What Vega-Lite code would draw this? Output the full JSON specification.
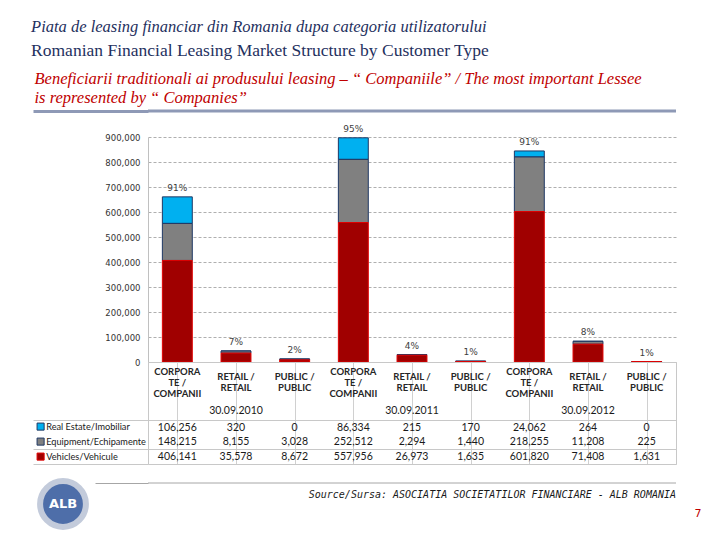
{
  "$schema": "https://vega.github.io/schema/vega-lite/v6.json",
  "background": "white",
  "padding": {"left": 28, "top": 19, "right": 4, "bottom": 2},
  "title": {
    "text": "Piata de leasing financiar din Romania dupa categoria utilizatorului",
    "subtitle": "Romanian Financial Leasing Market Structure by Customer Type",
    "anchor": "start", "frame": "bounds", "dx": 3,
    "font": "Liberation Serif", "fontSize": 16.5, "fontStyle": "italic", "fontWeight": "normal", "color": "#1f3160",
    "subtitleFont": "Liberation Serif", "subtitleFontSize": 17.5, "subtitleFontStyle": "normal", "subtitleColor": "#1f3160",
    "subtitlePadding": 6, "offset": 12
  },
  "config": {"view": {"stroke": null}, "font": "DejaVu Sans"},
  "spacing": 0,
  "bounds": "flush",
  "resolve": {"scale": {"color": "independent", "stroke": "independent"}},
  "datasets": {
    "cols": [
      {"col": "2010 Corporate", "customer": ["CORPORA", "TE /", "COMPANII"], "pct": "91%"},
      {"col": "2010 Retail", "customer": ["RETAIL /", "RETAIL"], "pct": "7%"},
      {"col": "2010 Public", "customer": ["PUBLIC /", "PUBLIC"], "pct": "2%"},
      {"col": "2011 Corporate", "customer": ["CORPORA", "TE /", "COMPANII"], "pct": "95%"},
      {"col": "2011 Retail", "customer": ["RETAIL /", "RETAIL"], "pct": "4%"},
      {"col": "2011 Public", "customer": ["PUBLIC /", "PUBLIC"], "pct": "1%"},
      {"col": "2012 Corporate", "customer": ["CORPORA", "TE /", "COMPANII"], "pct": "91%"},
      {"col": "2012 Retail", "customer": ["RETAIL /", "RETAIL"], "pct": "8%"},
      {"col": "2012 Public", "customer": ["PUBLIC /", "PUBLIC"], "pct": "1%"}
    ],
    "dates": [
      {"col": "2010 Retail", "date": "30.09.2010"},
      {"col": "2011 Retail", "date": "30.09.2011"},
      {"col": "2012 Retail", "date": "30.09.2012"}
    ],
    "values": [
      {"col": "2010 Corporate", "type": "Real Estate/Imobiliar", "value": 106256},
      {"col": "2010 Corporate", "type": "Equipment/Echipamente", "value": 148215},
      {"col": "2010 Corporate", "type": "Vehicles/Vehicule", "value": 406141},
      {"col": "2010 Retail", "type": "Real Estate/Imobiliar", "value": 320},
      {"col": "2010 Retail", "type": "Equipment/Echipamente", "value": 8155},
      {"col": "2010 Retail", "type": "Vehicles/Vehicule", "value": 35578},
      {"col": "2010 Public", "type": "Real Estate/Imobiliar", "value": 0},
      {"col": "2010 Public", "type": "Equipment/Echipamente", "value": 3028},
      {"col": "2010 Public", "type": "Vehicles/Vehicule", "value": 8672},
      {"col": "2011 Corporate", "type": "Real Estate/Imobiliar", "value": 86334},
      {"col": "2011 Corporate", "type": "Equipment/Echipamente", "value": 252512},
      {"col": "2011 Corporate", "type": "Vehicles/Vehicule", "value": 557956},
      {"col": "2011 Retail", "type": "Real Estate/Imobiliar", "value": 215},
      {"col": "2011 Retail", "type": "Equipment/Echipamente", "value": 2294},
      {"col": "2011 Retail", "type": "Vehicles/Vehicule", "value": 26973},
      {"col": "2011 Public", "type": "Real Estate/Imobiliar", "value": 170},
      {"col": "2011 Public", "type": "Equipment/Echipamente", "value": 1440},
      {"col": "2011 Public", "type": "Vehicles/Vehicule", "value": 1635},
      {"col": "2012 Corporate", "type": "Real Estate/Imobiliar", "value": 24062},
      {"col": "2012 Corporate", "type": "Equipment/Echipamente", "value": 218255},
      {"col": "2012 Corporate", "type": "Vehicles/Vehicule", "value": 601820},
      {"col": "2012 Retail", "type": "Real Estate/Imobiliar", "value": 264},
      {"col": "2012 Retail", "type": "Equipment/Echipamente", "value": 11208},
      {"col": "2012 Retail", "type": "Vehicles/Vehicule", "value": 71408},
      {"col": "2012 Public", "type": "Real Estate/Imobiliar", "value": 0},
      {"col": "2012 Public", "type": "Equipment/Echipamente", "value": 225},
      {"col": "2012 Public", "type": "Vehicles/Vehicule", "value": 1631}
    ]
  },
  "vconcat": [
    {
      "width": 528, "height": 26,
      "title": {
        "text": ["Beneficiarii traditionali ai produsului leasing – “ Companiile” / The most important Lessee", "is represented by “ Companies”"],
        "anchor": "start", "frame": "bounds", "dx": 3,
        "font": "Liberation Serif", "fontSize": 16.5, "fontStyle": "italic", "fontWeight": "normal",
        "color": "#c00000", "lineHeight": 19, "offset": 3
      },
      "data": {"values": [{"sep": "header"}]},
      "mark": {"type": "rule", "color": "#8e99b6", "strokeWidth": 3},
      "encoding": {
        "y": {
          "field": "sep", "type": "nominal",
          "scale": {"type": "point", "padding": 0, "align": 0},
          "axis": {"title": null, "labels": false, "domain": false, "ticks": true, "tickSize": 115, "tickWidth": 3, "tickColor": "#8e99b6", "grid": false}
        }
      }
    },
    {
      "width": 528, "height": 225,
      "layer": [
        {
          "data": {"name": "values"},
          "transform": [{"calculate": "indexof(['Vehicles/Vehicule','Equipment/Echipamente','Real Estate/Imobiliar'], datum.type)", "as": "stackOrder"}],
          "mark": {"type": "bar", "strokeWidth": 1},
          "encoding": {
            "x": {
              "field": "col", "type": "nominal",
              "scale": {"domain": ["2010 Corporate", "2010 Retail", "2010 Public", "2011 Corporate", "2011 Retail", "2011 Public", "2012 Corporate", "2012 Retail", "2012 Public"], "paddingInner": 0.49, "paddingOuter": 0.245},
              "axis": null
            },
            "y": {
              "field": "value", "type": "quantitative", "stack": "zero",
              "scale": {"domain": [0, 900000], "nice": false},
              "axis": {
                "title": null, "values": [0, 100000, 200000, 300000, 400000, 500000, 600000, 700000, 800000, 900000],
                "tickCount": 12, "format": ",d", "labelOverlap": false, "grid": true, "gridDash": [3, 2], "gridColor": "#9a9a9a", "gridWidth": 0.8,
                "domain": true, "domainColor": "#c0c0c0", "ticks": false, "labelPadding": 8,
                "labelFont": "DejaVu Sans", "labelFontSize": 8.5, "labelColor": "#333333"
              }
            },
            "color": {
              "field": "type", "type": "nominal",
              "scale": {"domain": ["Real Estate/Imobiliar", "Equipment/Echipamente", "Vehicles/Vehicule"], "range": ["#00b0f0", "#808080", "#a00000"]},
              "legend": {
                "orient": "none", "legendX": -112, "legendY": 285, "title": null,
                "symbolType": "square", "symbolSize": 50, "symbolStrokeColor": "#2b3a55", "symbolStrokeWidth": 1,
                "labelFont": "Lato", "labelFontSize": 9.2, "labelColor": "#1a1a1a",
                "rowPadding": 3, "labelOffset": 1, "padding": 0
              }
            },
            "stroke": {
              "field": "type", "type": "nominal",
              "scale": {"domain": ["Real Estate/Imobiliar", "Equipment/Echipamente", "Vehicles/Vehicule"], "range": ["#1f3864", "#1f3864", "#e00000"]},
              "legend": null
            },
            "order": {"field": "stackOrder", "type": "quantitative"}
          }
        },
        {
          "data": {"name": "values"},
          "transform": [{"lookup": "col", "from": {"data": {"name": "cols"}, "key": "col", "fields": ["pct"]}}],
          "mark": {"type": "text", "baseline": "bottom", "dy": -4, "font": "DejaVu Sans", "fontSize": 9, "color": "#404040"},
          "encoding": {
            "x": {"field": "col", "type": "nominal"},
            "y": {
              "field": "value", "aggregate": "sum", "type": "quantitative",
              "axis": {
                "title": null, "values": [0, 100000, 200000, 300000, 400000, 500000, 600000, 700000, 800000, 900000],
                "tickCount": 12, "format": ",d", "labelOverlap": false, "grid": true, "gridDash": [3, 2], "gridColor": "#9a9a9a", "gridWidth": 0.8,
                "domain": true, "domainColor": "#c0c0c0", "ticks": false, "labelPadding": 8,
                "labelFont": "DejaVu Sans", "labelFontSize": 8.5, "labelColor": "#333333"
              }
            },
            "text": {"field": "pct", "type": "nominal"}
          }
        }
      ]
    },
    {
      "width": 528, "height": 102,
      "view": {"stroke": "#c8c8c8"},
      "layer": [
        {
          "data": {"name": "values"},
          "mark": {"type": "text", "font": "Lato", "fontSize": 10.5, "color": "#1a1a1a"},
          "encoding": {
            "x": {
              "field": "col", "type": "nominal",
              "scale": {"domain": ["2010 Corporate", "2010 Retail", "2010 Public", "2011 Corporate", "2011 Retail", "2011 Public", "2012 Corporate", "2012 Retail", "2012 Public"], "paddingInner": 0, "paddingOuter": 0},
              "axis": {"orient": "top", "title": null, "labels": false, "ticks": false, "domain": false, "grid": true, "bandPosition": 0, "gridColor": "#d0d0d0"}
            },
            "y": {
              "field": "type", "type": "nominal",
              "scale": {"type": "band", "domain": ["h1", "h2", "h3", "date", "Real Estate/Imobiliar", "Equipment/Echipamente", "Vehicles/Vehicule"], "paddingInner": 0, "paddingOuter": 0},
              "axis": {
                "title": null, "labels": false, "domain": false, "bandPosition": 1,
                "ticks": true, "tickSize": 115,
                "tickColor": {"condition": {"test": "indexof(['date','Equipment/Echipamente','Vehicles/Vehicule'], datum.value) >= 0", "value": "#c8c8c8"}, "value": "transparent"},
                "grid": true,
                "gridColor": {"condition": {"test": "indexof(['date','Equipment/Echipamente','Vehicles/Vehicule'], datum.value) >= 0", "value": "#c8c8c8"}, "value": "transparent"}
              }
            },
            "text": {"field": "value", "type": "quantitative", "format": ","}
          }
        },
        {
          "data": {"name": "cols"},
          "transform": [{"filter": "indexof(datum.col, 'Corporate') >= 0"}],
          "mark": {"type": "text", "font": "Lato", "fontSize": 9.5, "fontWeight": "bold", "color": "#262626", "lineHeight": 11, "dy": -12},
          "encoding": {
            "x": {"field": "col", "type": "nominal"},
            "y": {"datum": "h2", "type": "nominal"},
            "text": {"field": "customer"}
          }
        },
        {
          "data": {"name": "cols"},
          "transform": [{"filter": "indexof(datum.col, 'Corporate') < 0"}],
          "mark": {"type": "text", "font": "Lato", "fontSize": 9.5, "fontWeight": "bold", "color": "#262626", "lineHeight": 11, "dy": -7},
          "encoding": {
            "x": {"field": "col", "type": "nominal"},
            "y": {"datum": "h2", "type": "nominal"},
            "text": {"field": "customer"}
          }
        },
        {
          "data": {"name": "dates"},
          "mark": {"type": "text", "font": "Lato", "fontSize": 10.5, "color": "#1a1a1a", "dy": -2},
          "encoding": {
            "x": {"field": "col", "type": "nominal"},
            "y": {"datum": "date", "type": "nominal"},
            "text": {"field": "date", "type": "nominal"}
          }
        }
      ]
    },
    {
      "width": 528, "height": 19,
      "title": {
        "text": "Source/Sursa: ASOCIATIA SOCIETATILOR FINANCIARE - ALB ROMANIA",
        "orient": "top", "anchor": "end", "frame": "group",
        "font": "DejaVu Sans Mono", "fontSize": 10, "fontStyle": "italic", "fontWeight": "normal", "color": "#1a1a1a", "offset": -36
      },
      "data": {"values": [{"item": "line"}, {"item": "logo", "label": "ALB"}, {"item": "page", "label": "7"}]},
      "layer": [
        {
          "transform": [{"filter": "datum.item === 'line'"}],
          "mark": {"type": "rule", "color": "#a6a6a6", "strokeWidth": 1},
          "encoding": {
            "y": {
              "field": "item", "type": "nominal",
              "scale": {"type": "point", "padding": 0, "domain": ["line", "logo"], "range": [19, 40]},
              "axis": {
                "title": null, "labels": false, "domain": false, "grid": false,
                "ticks": true, "tickSize": 53,
                "tickColor": {"condition": {"test": "datum.value === 'line'", "value": "#a6a6a6"}, "value": "transparent"}
              }
            }
          }
        },
        {
          "transform": [{"filter": "datum.item === 'logo'"}],
          "mark": {"type": "point", "shape": "circle", "filled": true, "size": 2100, "fill": "#4e6ea9", "stroke": "#c3cbdb", "strokeWidth": 6, "opacity": 1},
          "encoding": {
            "x": {"field": "item", "type": "nominal", "scale": {"type": "point", "padding": 0, "domain": ["logo", "page"], "range": [-85, 550]}, "axis": null},
            "y": {"field": "item", "type": "nominal"}
          }
        },
        {
          "transform": [{"filter": "datum.item === 'logo'"}],
          "mark": {"type": "text", "color": "white", "fontSize": 13, "fontWeight": "bold", "font": "DejaVu Sans"},
          "encoding": {
            "x": {"field": "item", "type": "nominal"},
            "y": {"field": "item", "type": "nominal"},
            "text": {"field": "label"}
          }
        },
        {
          "transform": [{"filter": "datum.item === 'page'"}],
          "mark": {"type": "text", "color": "#c00000", "fontSize": 11, "font": "DejaVu Sans", "dy": 10},
          "encoding": {
            "x": {"field": "item", "type": "nominal"},
            "y": {"datum": "logo", "type": "nominal"},
            "text": {"field": "label"}
          }
        }
      ]
    }
  ]
}
